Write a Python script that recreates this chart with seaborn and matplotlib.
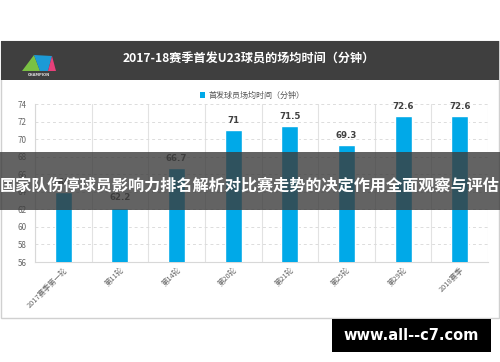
import numpy as np
import pandas as pd
import seaborn as sns
import matplotlib
matplotlib.use('Agg')
import matplotlib.pyplot as plt
from matplotlib.patches import Rectangle, Polygon, Patch

# chart data
rounds = ["2017赛季第一轮", "第11轮", "第14轮", "第20轮", "第21轮", "第25轮", "第29轮", "2018赛季"]
minutes = [64.0, 62.2, 66.7, 71.0, 71.5, 69.3, 72.6, 72.6]
y_ticks = [56, 58, 60, 62, 64, 66, 68, 70, 72, 74]

title_text = "2017-18赛季首发U23球员的场均时间（分钟）"
legend_text = "首发球员场均时间（分钟）"
banner_text = "国家队伤停球员影响力排名解析对比赛走势的决定作用全面观察与评估"
watermark_text = "www.all--c7.com"

sns.set_theme(style="white")
plt.rcParams['font.family'] = ['Noto Sans CJK SC', 'DejaVu Sans']

W, H = 500, 362
fig = plt.figure(figsize=(W / 100, H / 100), dpi=100)
fig.patch.set_facecolor('white')


def fx(px):
    return px / W


def fy(py):
    return 1 - py / H


# outer frame and dark header
fig.add_artist(Rectangle((fx(1), fy(318)), fx(498), 277 / H, transform=fig.transFigure,
                         facecolor='white', edgecolor='#d0d0d0', lw=1, zorder=-2))
fig.add_artist(Rectangle((fx(1), fy(80)), fx(498), 39 / H, transform=fig.transFigure,
                         facecolor='#3f3f3f', edgecolor='none', zorder=-1))
fig.text(fx(249), fy(59), title_text, color='white', fontsize=8.7, fontweight='bold',
         ha='center', va='center')

# small logo
logo_colors = ['#7ac143', '#1c9ad6', '#e8407a', '#f39c12']
fig.add_artist(Polygon([(fx(22), fy(71)), (fx(34), fy(55)), (fx(40), fy(71))], closed=True,
                       transform=fig.transFigure, facecolor=logo_colors[0], edgecolor='none'))
fig.add_artist(Polygon([(fx(34), fy(55)), (fx(52), fy(56)), (fx(48), fy(71)), (fx(40), fy(71))],
                       closed=True, transform=fig.transFigure, facecolor=logo_colors[1],
                       edgecolor='none'))
fig.add_artist(Polygon([(fx(52), fy(56)), (fx(56), fy(71)), (fx(48), fy(71))], closed=True,
                       transform=fig.transFigure, facecolor=logo_colors[2], edgecolor='none'))
fig.text(fx(39), fy(74.5), "CHAMPION", color='#dddddd', fontsize=2.6, fontweight='bold',
         ha='center', va='center', family='DejaVu Sans')

# bar chart
ax = fig.add_axes([fx(35), fy(262), fx(453), 158 / H])
df = pd.DataFrame({'round': rounds, 'minutes': minutes})
sns.barplot(data=df, x='round', y='minutes', color='#00a9e8', width=0.3, saturation=1,
            ax=ax, zorder=3)
ax.set_ylim(56, 74)
ax.set_xlim(-0.5, len(rounds) - 0.5)
ax.set_yticks(y_ticks)
ax.set_xlabel('')
ax.set_ylabel('')
ax.set_xticks(np.arange(-0.5, len(rounds), 1), minor=True)
ax.xaxis.grid(True, which='minor', color='#e2e2e2', lw=0.8)
ax.yaxis.grid(True, which='major', color='#dcdcdc', lw=0.7, linestyle=(0, (3, 3)))
ax.set_axisbelow(True)
for side in ['top', 'right']:
    ax.spines[side].set_visible(False)
for side in ['left', 'bottom']:
    ax.spines[side].set_color('#d8d8d8')
    ax.spines[side].set_linewidth(0.8)
ax.tick_params(axis='both', which='both', length=0, colors='#666666')
ax.tick_params(axis='y', labelsize=5.8, pad=6)
ax.tick_params(axis='x', labelsize=5.3, pad=3)
plt.setp(ax.get_xticklabels(), rotation=45, ha='right', rotation_mode='anchor')

for i, v in enumerate(minutes):
    ax.text(i, v + 0.6, f"{v:g}", ha='center', va='bottom', fontsize=6.2,
            fontweight='bold', color='#404040', family='DejaVu Sans')

ax.legend(handles=[Patch(facecolor='#00a9e8', edgecolor='none', label=legend_text)],
          loc='center', bbox_to_anchor=(fx(252), fy(95)), bbox_transform=fig.transFigure,
          frameon=False, fontsize=5.8, handlelength=0.7, handleheight=0.7,
          handletextpad=0.4, labelcolor='#555555')

# semi-transparent banner over the chart
fig.add_artist(Rectangle((0, fy(210)), 1, 58 / H, transform=fig.transFigure,
                         facecolor='#3c3c3c', edgecolor='none', alpha=0.8, zorder=5))
fig.text(0.5, fy(186), banner_text, color='white', fontsize=11.6, fontweight='bold',
         ha='center', va='center', zorder=6)

# watermark box
fig.add_artist(Rectangle((fx(332), fy(352)), fx(159), 33 / H, transform=fig.transFigure,
                         facecolor='black', edgecolor='none', zorder=5))
fig.text(fx(411), fy(335), watermark_text, color='white', fontsize=10.5, fontweight='bold',
         ha='center', va='center', family='DejaVu Sans', zorder=6)

fig.savefig('out.png', dpi=100)
